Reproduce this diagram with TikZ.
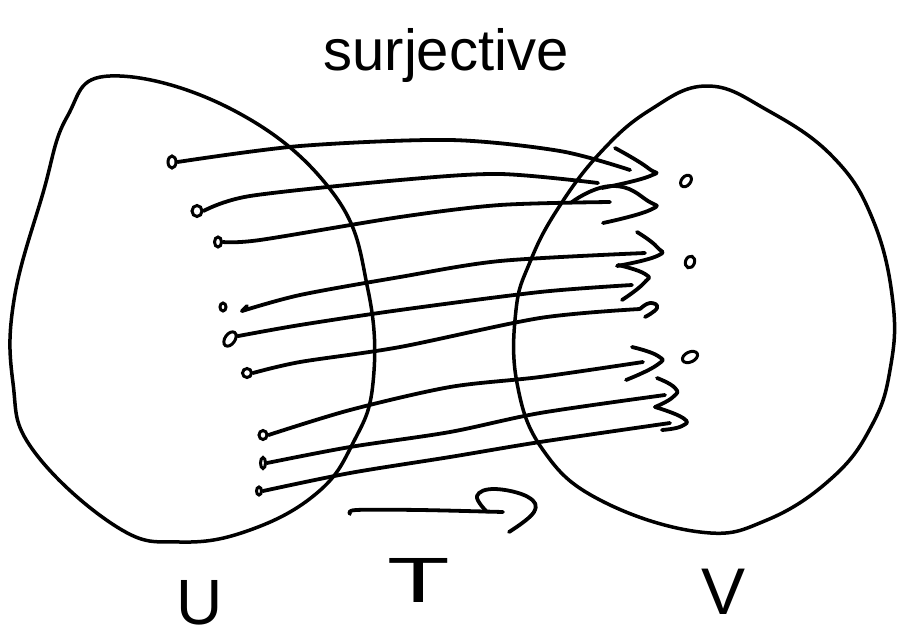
\documentclass[tikz,border=0pt]{standalone}
\usepackage{fontspec}
\setmainfont{Liberation Sans}
\usepackage{graphicx}
\usetikzlibrary{shapes.geometric}
\begin{document}
\begin{tikzpicture}[x=1pt,y=-1pt,
  pen/.style={line width=3.8pt, line cap=round, line join=round},
  blob/.style={line width=3.5pt, line join=round},
  dot/.style={ellipse, draw, line width=3pt, inner sep=0pt},
  lbl/.style={inner sep=0pt, anchor=base}]
\fill[white] (0,0) rectangle (899,637);
\useasboundingbox (0,0) rectangle (899,637);

% title
\node[lbl, font=\fontsize{58}{60}\selectfont] (title) at (446,70) {surjective};

% blobs
\draw[blob] plot[smooth cycle, tension=0.7] coordinates {
  (110,76) (233,110) (333,193) (368,290) (373,383) (353,443) (317,493)
  (250,530) (180,542) (117,527) (33,450) (13,383) (14,300) (43,193) (67,117)};
\draw[blob] plot[smooth cycle, tension=0.7] coordinates {
  (707,86) (767,110) (833,157) (873,220) (893,303) (890,370) (872,425)
  (833,477) (767,520) (700,532) (600,500) (543,450) (517,383) (516,310)
  (530,262) (557,210) (600,153) (650,110)};

% points in U
\node[dot, minimum width=8pt, minimum height=12pt] (u1) at (172,162) {};
\node[dot, minimum width=10pt, minimum height=11pt] (u2) at (197,211) {};
\node[dot, minimum width=7pt, minimum height=10pt] (u3) at (218,242) {};
\node[dot, minimum width=6pt, minimum height=8pt] (u4) at (223,307) {};
\node[dot, minimum width=10pt, minimum height=16pt, rotate=-35] (u5) at (230,339) {};
\node[dot, minimum width=9pt, minimum height=9pt] (u6) at (247,373) {};
\node[dot, minimum width=8pt, minimum height=9pt] (u7) at (263,435) {};
\node[dot, minimum width=5pt, minimum height=11pt] (u8) at (263,463) {};
\node[dot, minimum width=5pt, minimum height=8pt] (u9) at (259,491) {};
\coordinate (s4) at (242,311);
\coordinate (h4) at (247,306);

% points in V
\node[dot, minimum width=9pt, minimum height=13pt, rotate=-40] (v1) at (686,181) {};
\node[dot, minimum width=9pt, minimum height=12pt, rotate=-20] (v2) at (690,262) {};
\node[dot, minimum width=16pt, minimum height=10pt, rotate=25] (v3) at (690,357) {};

% line ends
\coordinate (e1) at (630,170);
\coordinate (e2) at (598,183);
\coordinate (e3) at (610,202);
\coordinate (e4) at (645,253);
\coordinate (e5) at (632,285);
\coordinate (e6) at (640,309);
\coordinate (e7) at (643,362);
\coordinate (e8) at (665,395);
\coordinate (e9) at (670,423);

% mapping lines
\draw[pen] plot[smooth] coordinates {(u1.east) (300,146) (450,140) (560,151) (e1)};
\draw[pen] plot[smooth] coordinates {(u2.east) (250,196) (400,180) (500,174) (e2)};
\draw[pen] plot[smooth] coordinates {(u3.east) (260,240) (400,217) (500,205) (e3)};
\draw[pen] (h4) -- (s4);
\draw[pen] plot[smooth] coordinates {(s4) (300,295) (400,277) (500,261) (e4)};
\draw[pen] plot[smooth] coordinates {(u5.north east) (300,325) (400,310) (540,292) (e5)};
\draw[pen] plot[smooth] coordinates {(u6.east) (300,362) (400,347) (540,318) (e6)};
\draw[pen] plot[smooth] coordinates {(u7.east) (350,410) (450,387) (540,377) (e7)};
\draw[pen] plot[smooth] coordinates {(u8.east) (350,447) (450,432) (540,413) (e8)};
\draw[pen] plot[smooth] coordinates {(u9.east) (350,473) (450,457) (540,442) (e9)};

% hand-drawn arrowheads
\draw[pen] plot[smooth, tension=0.9] coordinates {(615,148) (648,168) (650,176) (602,188)};
\draw[pen] plot[smooth, tension=0.9] coordinates {(572,202) (612,186) (648,201) (650,210) (603,223)};
\draw[pen] plot[smooth, tension=0.9] coordinates {(637,232) (657,247) (657,256) (617,266)};
\draw[pen] plot[smooth, tension=0.9] coordinates {(618,265) (645,274) (644,283) (622,300)};
\draw[pen] plot[smooth, tension=0.9] coordinates {(e6) (650,303) (657,308) (645,317)};
\draw[pen] plot[smooth, tension=0.9] coordinates {(632,347) (658,356) (657,365) (626,380)};
\draw[pen] plot[smooth, tension=0.9] coordinates {(657,378) (675,388) (673,397) (655,407)};
\draw[pen] plot[smooth, tension=0.9] coordinates {(655,407) (683,418) (682,426) (662,430)};

% T arrow
\coordinate (ta) at (350,514);
\coordinate (tb) at (503,512);
\draw[pen] plot[smooth] coordinates {(ta) (356,510) (420,510) (tb)};
\draw[pen] plot[smooth, tension=0.7] coordinates {(487,512) (477,496) (495,489) (528,497) (534,512) (509,532)};

% labels
\node[lbl, font=\fontsize{64}{66}\selectfont] (U) at (200,624) {U};
\node[lbl, font=\fontsize{64}{66}\selectfont] (T) at (419,602) {\scalebox{1.6}[1]{T}};
\node[lbl, font=\fontsize{66}{68}\selectfont] (V) at (724,614) {V};
\end{tikzpicture}
\end{document}
